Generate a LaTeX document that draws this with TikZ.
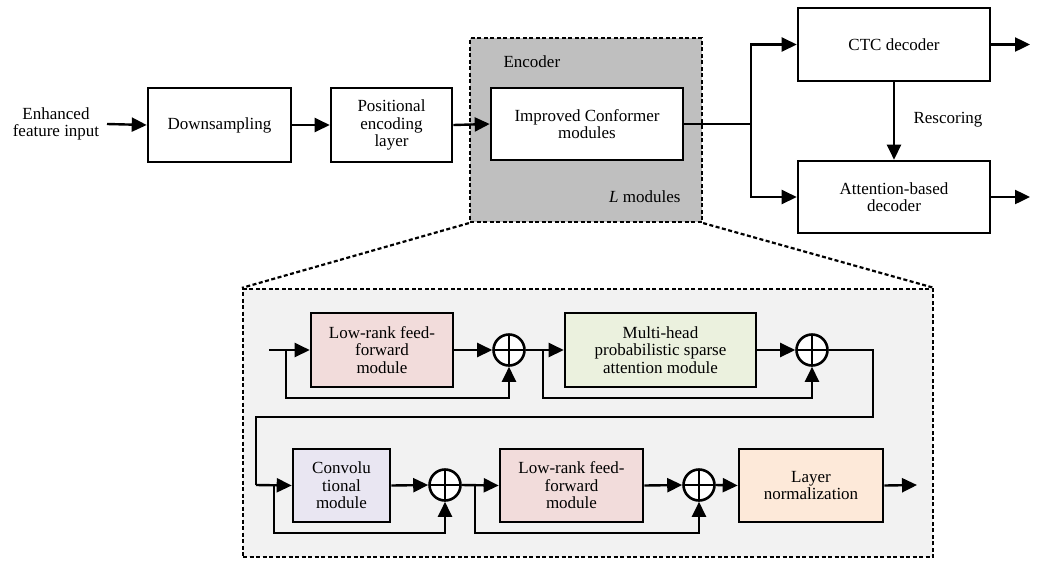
\documentclass[tikz,border=0pt]{standalone}
\usepackage{fontspec}
\setmainfont{Liberation Serif}
\usetikzlibrary{arrows.meta}
\definecolor{encgray}{HTML}{BFBFBF}
\definecolor{detgray}{HTML}{F2F2F2}
\definecolor{ffpink}{HTML}{F2DCDB}
\definecolor{mhgreen}{HTML}{EBF1DE}
\definecolor{convlav}{HTML}{E9E6F2}
\definecolor{lnpeach}{HTML}{FDE9D9}
\tikzset{
  box/.style={draw, line width=2.6pt, fill=white, align=center, inner sep=2pt,
    font=\fontsize{17}{17.5}\selectfont},
  arr/.style={line width=2.4pt, -{Triangle[length=15pt,width=14pt]}},
  ln/.style={line width=2.4pt},
  zoomline/.style={line width=2.2pt, dash pattern=on 4pt off 2.5pt},
  oplus/.style={circle, draw, line width=2.6pt, fill=white, minimum size=31pt, inner sep=0pt,
    path picture={\draw[line width=2.3pt] (path picture bounding box.north) -- (path picture bounding box.south)
      (path picture bounding box.west) -- (path picture bounding box.east);}},
  lbl/.style={font=\fontsize{17}{17.5}\selectfont, align=center}
}
\begin{document}
\begin{tikzpicture}[x=1pt,y=-1pt]
\useasboundingbox (0,0) rectangle (1040,560);
% encoder gray box
\node[draw, zoomline, fill=encgray, minimum width=232pt, minimum height=184pt, inner sep=0pt] (enc) at (586,130) {};
\node[lbl, anchor=west] (enclbl) at (500,62) {Encoder};
\node[lbl, anchor=east] (lmod) at (684,197) {\textit{L} modules};
% top row
\node[lbl] (in) at (56,124) {Enhanced\\feature input};
\node[box, minimum width=143pt, minimum height=74pt] (ds) at (219.5,125) {Downsampling};
\node[box, minimum width=121pt, minimum height=74pt] (pe) at (391.5,125) {Positional\\encoding\\layer};
\node[box, minimum width=192pt, minimum height=72pt] (conf) at (587,124) {Improved Conformer\\modules};
\node[box, minimum width=192pt, minimum height=73pt] (ctc) at (894,44.5) {CTC decoder};
\node[box, minimum width=192pt, minimum height=72pt] (att) at (894,197) {Attention-based\\decoder};
\coordinate (inl) at (107,124);
\coordinate (br) at (751,124);
\coordinate (o1) at (1030,44.5);
\coordinate (o2) at (1030,197);
\draw[arr] (inl) -- (ds.west);
\draw[arr] (ds.east) -- (pe.west);
\draw[arr] (pe.east) -- (conf.west);
\draw[ln] (conf.east) -- (br);
\draw[arr] (br) |- (ctc.west);
\draw[arr] (br) |- (att.west);
\draw[arr] (ctc.south) -- (att.north);
\node[lbl] (resc) at (948,120) {Rescoring};
\draw[arr] (ctc.east) -- (o1);
\draw[arr] (att.east) -- (o2);
% detail box
\node[draw, zoomline, fill=detgray, minimum width=690pt, minimum height=268pt, inner sep=0pt] (det) at (588,423) {};
\draw[zoomline] (enc.south west) -- (det.north west);
\draw[zoomline] (enc.south east) -- (det.north east);
% row 1
\node[box, fill=ffpink, minimum width=142pt, minimum height=74pt] (ff1) at (382,350) {Low-rank feed-\\forward\\module};
\node[oplus] (p1) at (509,350) {};
\node[box, fill=mhgreen, minimum width=191pt, minimum height=74pt] (mh) at (660.5,350) {Multi-head\\probabilistic sparse\\attention module};
\node[oplus] (p2) at (812,350) {};
\coordinate (in1) at (269,350);
\coordinate (b1) at (286,350);
\coordinate (b1d) at (286,398);
\coordinate (b2) at (543,350);
\coordinate (b2d) at (543,398);
\draw[arr] (in1) -- (ff1.west);
\draw[arr] (b1) -- (b1d) -| (p1.south);
\draw[arr] (ff1.east) -- (p1.west);
\draw[arr] (p1.east) -- (mh.west);
\draw[arr] (b2) -- (b2d) -| (p2.south);
\draw[arr] (mh.east) -- (p2.west);
% row 2
\node[box, fill=convlav, minimum width=97pt, minimum height=73pt] (conv) at (341.5,485.5) {Convolu\\tional\\module};
\node[oplus] (p3) at (445,485) {};
\node[box, fill=ffpink, minimum width=143pt, minimum height=73pt] (ff2) at (571.5,485.5) {Low-rank feed-\\forward\\module};
\node[oplus] (p4) at (699,485) {};
\node[box, fill=lnpeach, minimum width=144pt, minimum height=73pt] (lnorm) at (811,485.5) {Layer\\normalization};
\coordinate (t1) at (873,350);
\coordinate (t2) at (873,417);
\coordinate (t3) at (256,417);
\coordinate (t4) at (256,485);
\coordinate (b3) at (274,485);
\coordinate (b3d) at (274,533);
\coordinate (b4) at (475,485);
\coordinate (b4d) at (475,533);
\coordinate (out) at (917,485);
\draw[ln] (p2.east) -- (t1) -- (t2) -- (t3) -- (t4);
\draw[arr] (t4) -- (conv.west);
\draw[arr] (b3) -- (b3d) -| (p3.south);
\draw[arr] (conv.east) -- (p3.west);
\draw[arr] (p3.east) -- (ff2.west);
\draw[arr] (b4) -- (b4d) -| (p4.south);
\draw[arr] (ff2.east) -- (p4.west);
\draw[arr] (p4.east) -- (lnorm.west);
\draw[arr] (lnorm.east) -- (out);
\end{tikzpicture}
\end{document}
